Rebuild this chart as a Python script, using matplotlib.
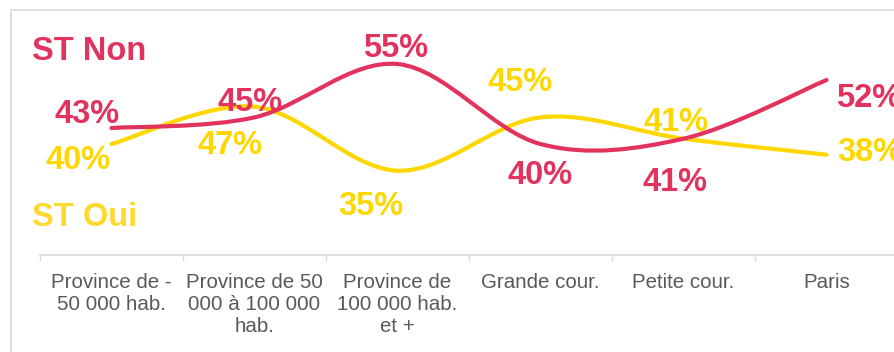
import matplotlib.pyplot as plt
from matplotlib.path import Path
from matplotlib.patches import PathPatch, Rectangle

categories = ['Province de -\n50 000 hab.', 'Province de 50\n000 à 100 000\nhab.',
              'Province de\n100 000 hab.\net +', 'Grande cour.', 'Petite cour.', 'Paris']
st_non = [43, 45, 55, 40, 41, 52]
st_oui = [40, 47, 35, 45, 41, 38]

RED = '#E2335E'
YELLOW = '#FFD700'
GREY = '#595959'
LIGHT = '#D9D9D9'

# label offsets in pixels from each point (dx, dy, ha)
non_offsets = [(-24, 14, 'center'), (-4, 15, 'center'), (-2, 16, 'center'),
               (0, -31, 'center'), (-8, -44, 'center'), (10, -18, 'left')]
oui_offsets = [(-33, -16, 'center'), (-24, -39, 'center'), (-27, -36, 'center'),
               (-20, 35, 'center'), (-7, 16, 'center'), (11, 2, 'left')]

plt.rcParams['font.family'] = ['Liberation Sans', 'DejaVu Sans']


def smooth_path(xs, ys):
    # cubic bezier through every point, tangents from the neighbours
    pts = list(zip(xs, ys))
    n = len(pts)
    verts = [pts[0]]
    codes = [Path.MOVETO]
    for i in range(n - 1):
        p0 = pts[max(i - 1, 0)]
        p1 = pts[i]
        p2 = pts[i + 1]
        p3 = pts[min(i + 2, n - 1)]
        c1 = (p1[0] + (p2[0] - p0[0]) / 6, p1[1] + (p2[1] - p0[1]) / 6)
        c2 = (p2[0] - (p3[0] - p1[0]) / 6, p2[1] - (p3[1] - p1[1]) / 6)
        verts += [c1, c2, p2]
        codes += [Path.CURVE4] * 3
    return Path(verts, codes)


fig = plt.figure(figsize=(8.94, 3.52), dpi=100)
ax = fig.add_axes([40 / 894, 1 - 255 / 352, 858 / 894, 235 / 352])

x = list(range(len(categories)))
for values, color, offsets in [(st_oui, YELLOW, oui_offsets), (st_non, RED, non_offsets)]:
    ax.add_patch(PathPatch(smooth_path(x, values), facecolor='none', edgecolor=color,
                           lw=3, capstyle='round', clip_on=False))
    for xi, v, (dx, dy, ha) in zip(x, values, offsets):
        ax.annotate(f'{v}%', (xi, v), xytext=(dx, dy), textcoords='offset pixels',
                    ha=ha, va='center', fontsize=23.5, fontweight='bold', color=color,
                    annotation_clip=False)

ax.set_xlim(-0.5, 5.5)
ax.set_ylim(19.2, 63.25)
ax.set_yticks([])
ax.set_xticks(x)
ax.set_xticklabels(categories, fontsize=14.8, color=GREY, linespacing=1.2)
ax.set_xticks([i - 0.5 for i in range(len(categories) + 1)], minor=True)
ax.tick_params(axis='x', which='major', length=0, pad=13)
ax.tick_params(axis='x', which='minor', length=4.5, width=1, color=LIGHT)
for side in ['top', 'left', 'right']:
    ax.spines[side].set_visible(False)
ax.spines['bottom'].set_color(LIGHT)
ax.spines['bottom'].set_linewidth(1.2)

fig.text(32 / 894, 1 - 51 / 352, 'ST Non', fontsize=23.5, fontweight='bold',
         color=RED, va='center', ha='left')
fig.text(32 / 894, 1 - 218 / 352, 'ST Oui', fontsize=23.5, fontweight='bold',
         color='#FFD92F', va='center', ha='left')

# chart border running off the page
fig.patches.append(Rectangle((11 / 894, -0.2), 1.2, 1.2 - 10 / 352, transform=fig.transFigure,
                             facecolor='none', edgecolor=LIGHT, lw=1.2, zorder=-1))

fig.savefig('out.png', dpi=100)
